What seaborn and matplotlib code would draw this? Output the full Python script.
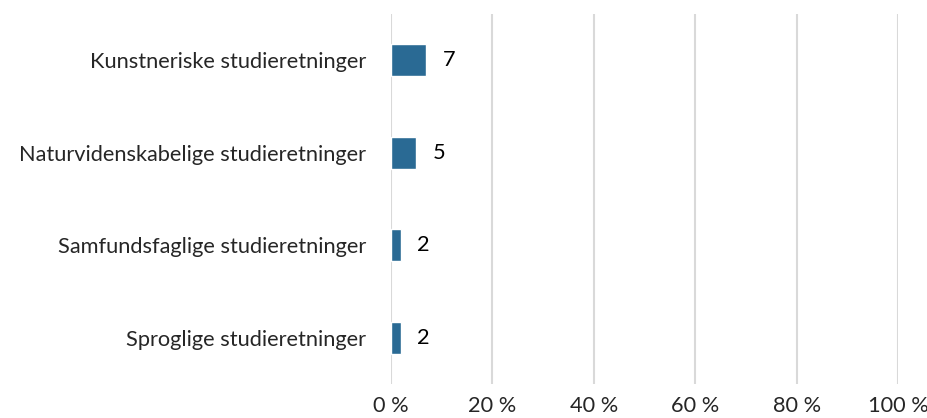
import matplotlib.pyplot as plt
import seaborn as sns
import pandas as pd

categories = ['Kunstneriske studieretninger', 'Naturvidenskabelige studieretninger',
              'Samfundsfaglige studieretninger', 'Sproglige studieretninger']
values = [7, 5, 2, 2]
xticks = [0, 20, 40, 60, 80, 100]

sns.set_style('white')
plt.rcParams['font.family'] = ['Lato', 'DejaVu Sans']

df = pd.DataFrame({'cat': categories, 'val': values})

fig = plt.figure(figsize=(9.28, 4.18), dpi=100)
ax = fig.add_axes([391 / 928, 1 - 384 / 418, 507 / 928, 370 / 418])
sns.barplot(data=df, x='val', y='cat', color='#2a6a94', saturation=1, width=0.35, ax=ax)

for i, v in enumerate(values):
    ax.text(v + 4.4, i, str(v), va='center', ha='center', fontsize=15.7, color='black')

ax.set_xlim(0, 100)
ax.set_ylim(3.5, -0.5)
ax.set_xticks(xticks)
ax.set_xticklabels([f'{t} %' for t in xticks], fontsize=15.7)
ax.tick_params(axis='y', labelsize=15.7, length=0, pad=18)
ax.tick_params(axis='x', length=0, pad=9)
ax.xaxis.grid(True, color='#d9d9d9', linewidth=1.5)
ax.set_axisbelow(True)
ax.set_xlabel('')
ax.set_ylabel('')
for s in ax.spines.values():
    s.set_visible(False)

fig.savefig('out.png', dpi=100)
